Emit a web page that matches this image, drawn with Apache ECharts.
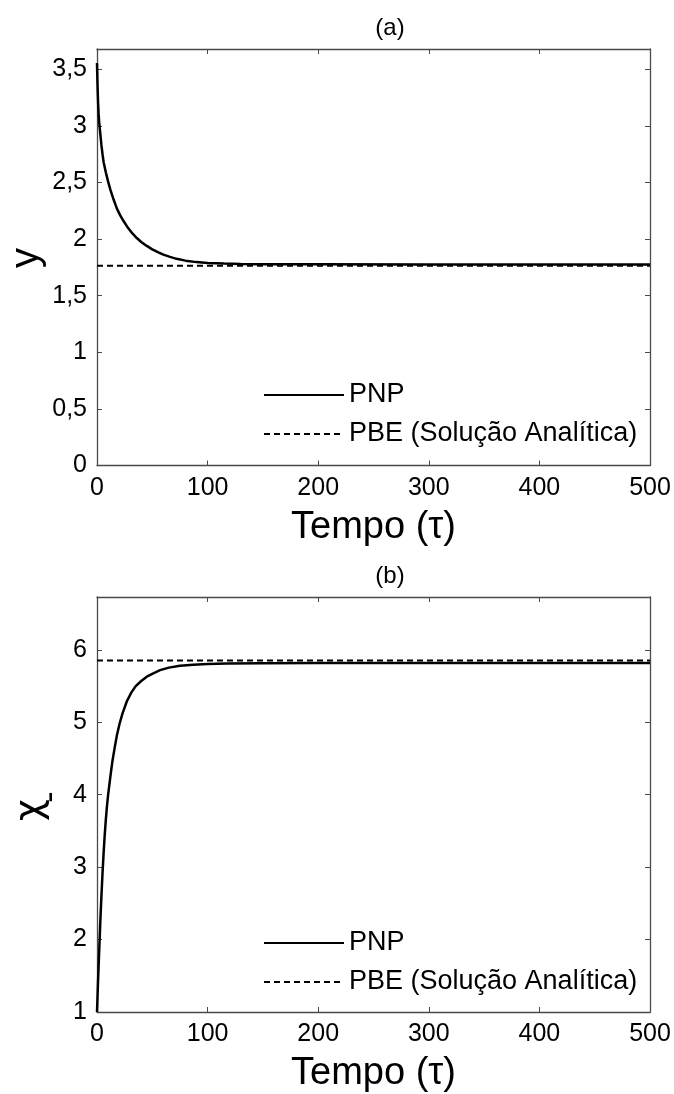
<!DOCTYPE html>
<html>
<head>
<meta charset="utf-8">
<script src="https://cdn.jsdelivr.net/npm/echarts@6/dist/echarts.min.js"></script>
<style>
html,body{margin:0;padding:0;background:#fff;}
#chart{width:674px;height:1094px;}
</style>
</head>
<body>
<div id="chart"></div>
<script>
// ---- data ----
const timeA = [0, 0.5, 1, 1.5, 2, 3, 4, 5, 6, 8, 10, 12, 15, 18, 21, 24, 28, 32, 36, 40, 45, 50, 55, 60, 66, 72, 80, 90, 100, 115, 130, 150, 200, 300, 400, 500];
const yPNP  = [3.556, 3.35, 3.2, 3.1, 3.03, 2.93, 2.83, 2.75, 2.68, 2.59, 2.51, 2.44, 2.35, 2.27, 2.21, 2.16, 2.10, 2.05, 2.01, 1.975, 1.94, 1.91, 1.885, 1.863, 1.843, 1.826, 1.81, 1.797, 1.79, 1.784, 1.781, 1.779, 1.778, 1.777, 1.777, 1.777];
const yPBE  = 1.766;

const timeB  = [0, 1, 2, 3, 4, 5, 6, 7, 8, 9, 10, 12, 14, 16, 18, 20.4, 23, 27, 31, 35, 40, 45, 50, 57, 65, 75, 87, 100, 117, 150, 200, 300, 400, 500];
const chiPNP = [1, 1.45, 1.85, 2.25, 2.6, 2.92, 3.2, 3.45, 3.66, 3.84, 3.99, 4.24, 4.47, 4.65, 4.82, 4.98, 5.12, 5.29, 5.41, 5.5, 5.57, 5.63, 5.67, 5.72, 5.755, 5.78, 5.795, 5.806, 5.812, 5.816, 5.818, 5.818, 5.818, 5.818];
const chiPBE = 5.853;

const xTicks = [0, 100, 200, 300, 400, 500];
const yTicksA = [0, 0.5, 1, 1.5, 2, 2.5, 3, 3.5];
const yTicksB = [1, 2, 3, 4, 5, 6];
const seriesNames = ['PNP', 'PBE (Solução Analítica)'];
const panelTitles = ['(a)', '(b)'];
const xName = 'Tempo (τ)';

// ---- chart ----
const FONT = 'Liberation Sans, Arial, Helvetica, sans-serif';
const AX = '#4a4a4a';
const chart = echarts.init(document.getElementById('chart'), null, {renderer: 'canvas'});

function pairs(xs, ys) { return xs.map((x, i) => [x, ys[i]]); }
function flat(v, xs) { return [[xs[0], v], [xs[xs.length - 1], v]]; }
function comma(v) { return String(v).replace('.', ','); }

const G = [{top: 49, height: 416.5}, {top: 597, height: 416.5}];

function xAxes(gi) {
  const base = {
    type: 'value', gridIndex: gi, min: xTicks[0], max: xTicks[xTicks.length - 1],
    interval: xTicks[1] - xTicks[0],
    axisLine: {show: true, onZero: false, lineStyle: {color: AX, width: 1.3}},
    axisTick: {show: true, inside: true, length: 5, lineStyle: {color: AX, width: 1}},
    splitLine: {show: false}
  };
  return [
    Object.assign({}, base, {
      position: 'bottom',
      axisLabel: {show: true, margin: 10, fontSize: 25, color: '#000', fontFamily: FONT},
      name: xName, nameLocation: 'middle', nameGap: 43,
      nameTextStyle: {fontSize: 38, color: '#000', fontFamily: FONT}
    }),
    Object.assign({}, base, {position: 'top', axisLabel: {show: false}})
  ];
}

function yAxes(gi, ticks, max) {
  const step = ticks[1] - ticks[0];
  const base = {
    type: 'value', gridIndex: gi, min: ticks[0], max: max, interval: step,
    axisLine: {show: true, onZero: false, lineStyle: {color: AX, width: 1.3}},
    axisTick: {show: true, inside: true, length: 5, lineStyle: {color: AX, width: 1}},
    splitLine: {show: false}
  };
  return [
    Object.assign({}, base, {
      position: 'left',
      axisLabel: {
        show: true, margin: 10, fontSize: 25, color: '#000', fontFamily: FONT,
        showMaxLabel: false,
        formatter: v => (Math.abs(v / step - Math.round(v / step)) < 1e-6 && v <= ticks[ticks.length - 1] + 1e-9) ? comma(v) : ''
      }
    }),
    Object.assign({}, base, {position: 'right', axisLabel: {show: false}})
  ];
}

const solid = {color: '#000', width: 2.5, type: 'solid'};
const dashed = {color: '#000', width: 2, type: [6, 4]};
const noDot = {color: '#000', opacity: 0};

const option = {
  animation: false,
  backgroundColor: '#fff',
  grid: G.map(g => ({left: 97, right: 24, top: g.top, height: g.height, containLabel: false})),
  xAxis: [...xAxes(0), ...xAxes(1)],
  yAxis: [...yAxes(0, yTicksA, 3.68), ...yAxes(1, yTicksB, 6.73)],
  legend: [0, 1].map(i => ({
    data: seriesNames.map(n => ({name: n})),
    orient: 'vertical', left: 263, top: (i === 0 ? 381 : 929), padding: 0,
    itemWidth: 80, itemHeight: 14, itemGap: 11,
    itemStyle: {opacity: 0, borderWidth: 0},
    textStyle: {fontSize: 27, lineHeight: 28, color: '#000', fontFamily: FONT},
    selectedMode: false
  })),
  series: [
    {name: seriesNames[0], type: 'line', xAxisIndex: 0, yAxisIndex: 0, data: pairs(timeA, yPNP),
     smooth: false, showSymbol: false, symbol: 'none', itemStyle: noDot, lineStyle: solid, z: 3},
    {name: seriesNames[1], type: 'line', xAxisIndex: 0, yAxisIndex: 0, data: flat(yPBE, timeA),
     showSymbol: false, symbol: 'none', itemStyle: noDot, lineStyle: dashed, z: 2},
    {name: seriesNames[0], type: 'line', xAxisIndex: 2, yAxisIndex: 2, data: pairs(timeB, chiPNP),
     smooth: false, showSymbol: false, symbol: 'none', itemStyle: noDot, lineStyle: solid, z: 3},
    {name: seriesNames[1], type: 'line', xAxisIndex: 2, yAxisIndex: 2, data: flat(chiPBE, timeB),
     showSymbol: false, symbol: 'none', itemStyle: noDot, lineStyle: dashed, z: 2}
  ],
  graphic: [
    {type: 'text', x: 390, y: 28, style: {text: panelTitles[0], fontSize: 24, fontFamily: FONT, fill: '#000', textAlign: 'center', textVerticalAlign: 'middle'}},
    {type: 'text', x: 390, y: 576, style: {text: panelTitles[1], fontSize: 24, fontFamily: FONT, fill: '#000', textAlign: 'center', textVerticalAlign: 'middle'}},
    {type: 'text', x: 27, y: 258, rotation: Math.PI / 2, style: {text: 'y', fontSize: 40, fontFamily: FONT, fill: '#000', textAlign: 'center', textVerticalAlign: 'middle'}},
    {type: 'text', x: 31, y: 810, rotation: Math.PI / 2, style: {text: 'χ', fontSize: 38, fontFamily: 'DejaVu Sans, ' + FONT, fill: '#000', textAlign: 'center', textVerticalAlign: 'middle'}},
    {type: 'text', x: 51, y: 797, rotation: Math.PI / 2, style: {text: '-', fontSize: 34, fontFamily: FONT, fill: '#000', textAlign: 'center', textVerticalAlign: 'middle'}}
  ]
};
chart.setOption(option);
</script>
</body>
</html>
